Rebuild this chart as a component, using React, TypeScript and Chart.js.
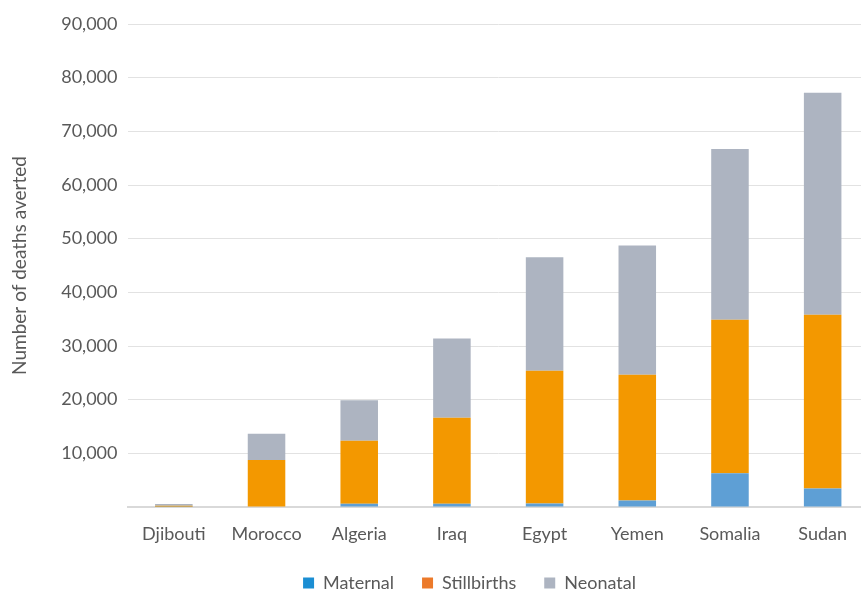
import React, { useEffect, useRef } from "react";
import { Chart, registerables } from "chart.js";

Chart.register(...registerables);

// Deaths averted by country, split by type
const countries = ["Djibouti", "Morocco", "Algeria", "Iraq", "Egypt", "Yemen", "Somalia", "Sudan"];
const maternal = [40, 80, 620, 620, 650, 1200, 6270, 3460];
const stillbirths = [200, 8670, 11740, 16010, 24720, 23430, 28600, 32340];
const neonatal = [300, 4920, 7540, 14760, 21180, 24120, 31830, 41390];

const seriesNames = ["Maternal", "Stillbirths", "Neonatal"];
const barColors = ["#5e9fd5", "#f39800", "#adb4c1"];
const swatchColors = ["#1b8ed3", "#ec7a2a", "#adb4c1"];

const yMax = 90000;
const yStep = 10000;

const FONT = "Lato, 'Open Sans', sans-serif";
const TEXT = "#595959";

// Centre the legend under the full canvas width rather than the padded box
const legendShift = {
  id: "legendShift",
  afterLayout(chart: any) {
    const lg = chart.legend;
    if (!lg) return;
    const dx = 35;
    lg.left += dx;
    lg.right += dx;
  },
};

export default function App() {
  const canvasRef = useRef<HTMLCanvasElement | null>(null);

  useEffect(() => {
    const canvas = canvasRef.current;
    if (!canvas) return;
    const values = [maternal, stillbirths, neonatal];
    const chart = new Chart(canvas, {
      type: "bar",
      data: {
        labels: countries,
        datasets: seriesNames.map((name, i) => ({
          label: name,
          data: values[i],
          backgroundColor: barColors[i],
          borderWidth: 0,
          categoryPercentage: 1,
          barPercentage: 0.405,
        })),
      },
      plugins: [legendShift],
      options: {
        responsive: false,
        animation: false,
        devicePixelRatio: 1,
        layout: { padding: { top: 24, right: 69, left: 0, bottom: 0 } },
        plugins: {
          tooltip: { enabled: false },
          legend: {
            position: "bottom",
            labels: {
              color: TEXT,
              font: { family: FONT, size: 18 },
              boxWidth: 11,
              boxHeight: 11,
              padding: 28,
              generateLabels: (c: any) => {
                const items = Chart.defaults.plugins.legend.labels.generateLabels(c);
                return items.map((it: any, i: number) => ({
                  ...it,
                  fillStyle: swatchColors[i],
                  strokeStyle: swatchColors[i],
                  lineWidth: 0,
                }));
              },
            },
          },
        },
        scales: {
          x: {
            stacked: true,
            grid: { display: false, drawTicks: false },
            border: { display: true, color: "#d9d9d9", width: 2 },
            ticks: {
              color: TEXT,
              font: { family: FONT, size: 18 },
              padding: 16,
              maxRotation: 0,
            },
            afterFit: (scale: any) => {
              scale.height = 39;
            },
          },
          y: {
            stacked: true,
            min: 0,
            max: yMax,
            grid: { color: "#e2e2e2", lineWidth: 1, drawTicks: false },
            border: { display: false },
            ticks: {
              stepSize: yStep,
              color: TEXT,
              font: { family: FONT, size: 18 },
              padding: 10,
              callback: (v: any) => (Number(v) === 0 ? "" : Number(v).toLocaleString("en-US")),
            },
            title: {
              display: true,
              text: "Number of deaths averted",
              color: TEXT,
              font: { family: FONT, size: 19 },
              padding: { top: 8, bottom: 4 },
            },
            afterFit: (scale: any) => {
              scale.width = 127.5;
            },
          },
        },
      },
    });
    return () => chart.destroy();
  }, []);

  return (
    <div
      style={{
        position: "fixed",
        left: 0,
        top: 0,
        width: 861,
        height: 592,
        overflow: "hidden",
        background: "#ffffff",
      }}
    >
      <canvas ref={canvasRef} width={938} height={602} style={{ display: "block" }} />
    </div>
  );
}
